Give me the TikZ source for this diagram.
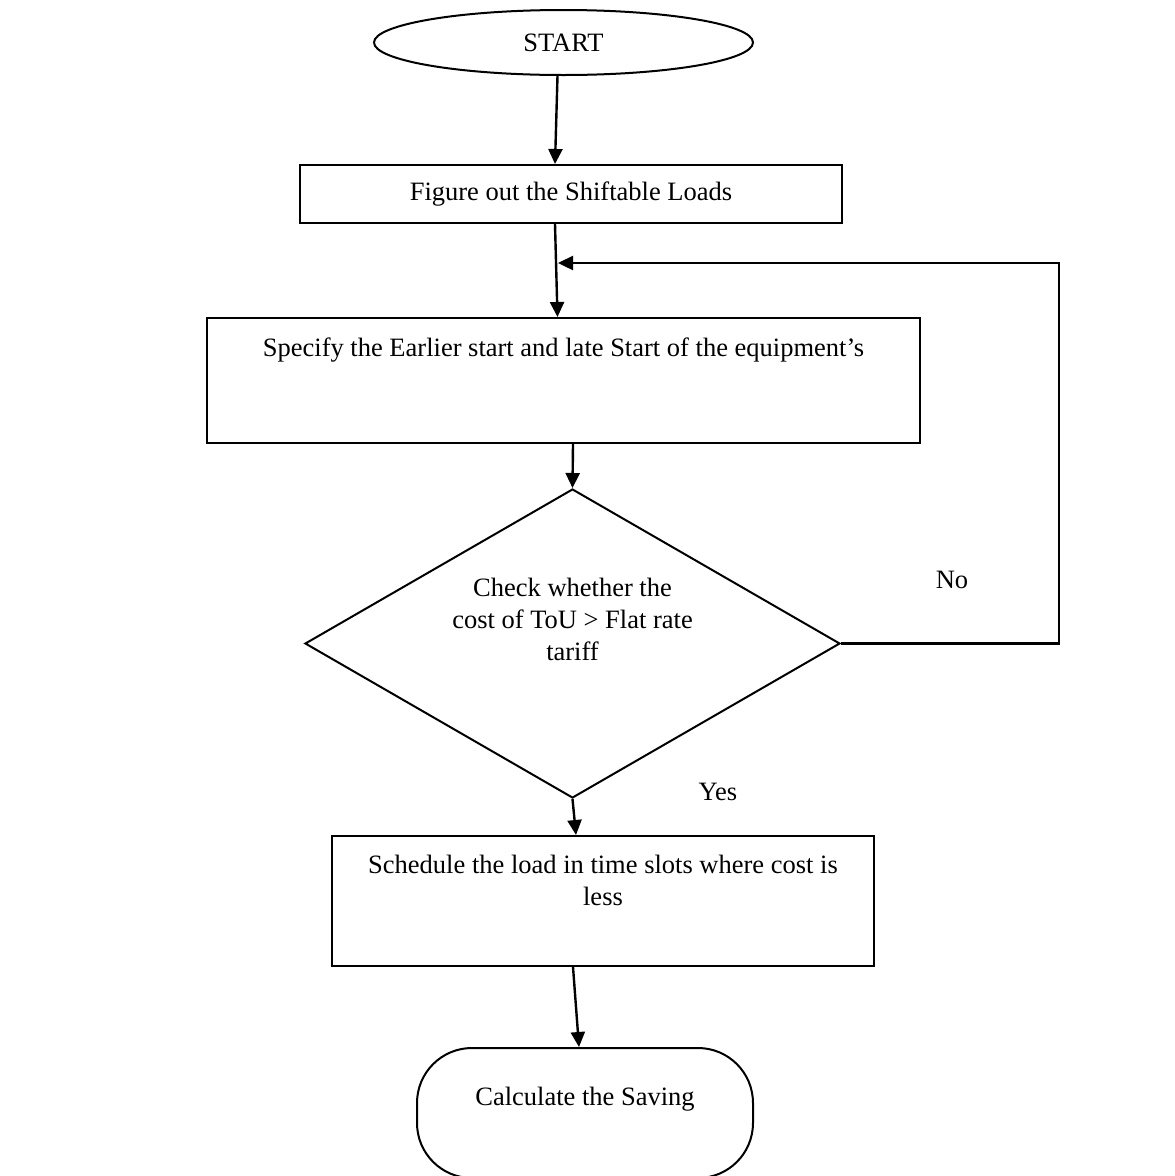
\documentclass[tikz,border=0pt]{standalone}
\usepackage{fontspec}
\setmainfont{Liberation Serif}
\usetikzlibrary{shapes.geometric, arrows.meta}

\begin{document}
\begin{tikzpicture}[
                x=1pt, y=-1pt,
                every node/.style={font=\fontsize{26.5}{32}\selectfont},
                box/.style={draw, line width=2pt, inner sep=0pt},
                arr/.style={line width=2.4pt, -{Triangle[length=15pt,width=14pt]}},
                lbl/.style={fill=white, inner sep=0pt}
            ]
            \useasboundingbox (0,0) rectangle (1175,1176);
            \node[box, ellipse, minimum width=379pt, minimum height=65pt] (start) at (563.5,42.5) {START};
            \node[box, minimum width=542pt, minimum height=58pt] (shift) at (571,194) {Figure out the Shiftable Loads};
            \node[box, minimum width=713pt, text height=38pt, text depth=87pt] (specify) at (563.5,380.5) {Specify the Earlier start and late Start of the equipment's};
            \node[box, diamond, minimum width=535pt, minimum height=309pt] (check) at (572.5,643.5) {};
            \node[align=center] (checktext) at ([yshift=24pt]check.center) {Check whether the\\ cost of ToU > Flat rate\\ tariff};
            \node[box, align=center, minimum width=542pt, text height=69pt, text depth=61pt] (sched) at (603,901) {Schedule the load in time slots where cost is\\ less};
            \node[box, rounded corners=55pt, minimum width=336pt, text height=57pt, text depth=73pt] (saving) at (585,1113) {Calculate the Saving};
            \node[lbl, minimum width=90pt, minimum height=71pt] (no) at (952,580) {No};
            \node[lbl, minimum width=99pt, minimum height=61pt] (yes) at (718,792) {Yes};
            \coordinate (corner) at (1059,263);
            \coordinate (loopin) at (558,263);
            \draw[arr] ([xshift=-6pt]start.south) -- ([xshift=-16pt]shift.north);
            \draw[arr] ([xshift=-16pt]shift.south) -- ([xshift=-6pt]specify.north);
            \draw[arr] ([xshift=9.5pt]specify.south) -- (check.north);
            \draw[arr] (check.south) -- ([xshift=-27pt]sched.north);
            \draw[arr] ([xshift=-30pt]sched.south) -- ([xshift=-6pt]saving.north);
            \draw[arr] (check.east) -| (corner) -- (loopin);
        \end{tikzpicture}
\end{document}
